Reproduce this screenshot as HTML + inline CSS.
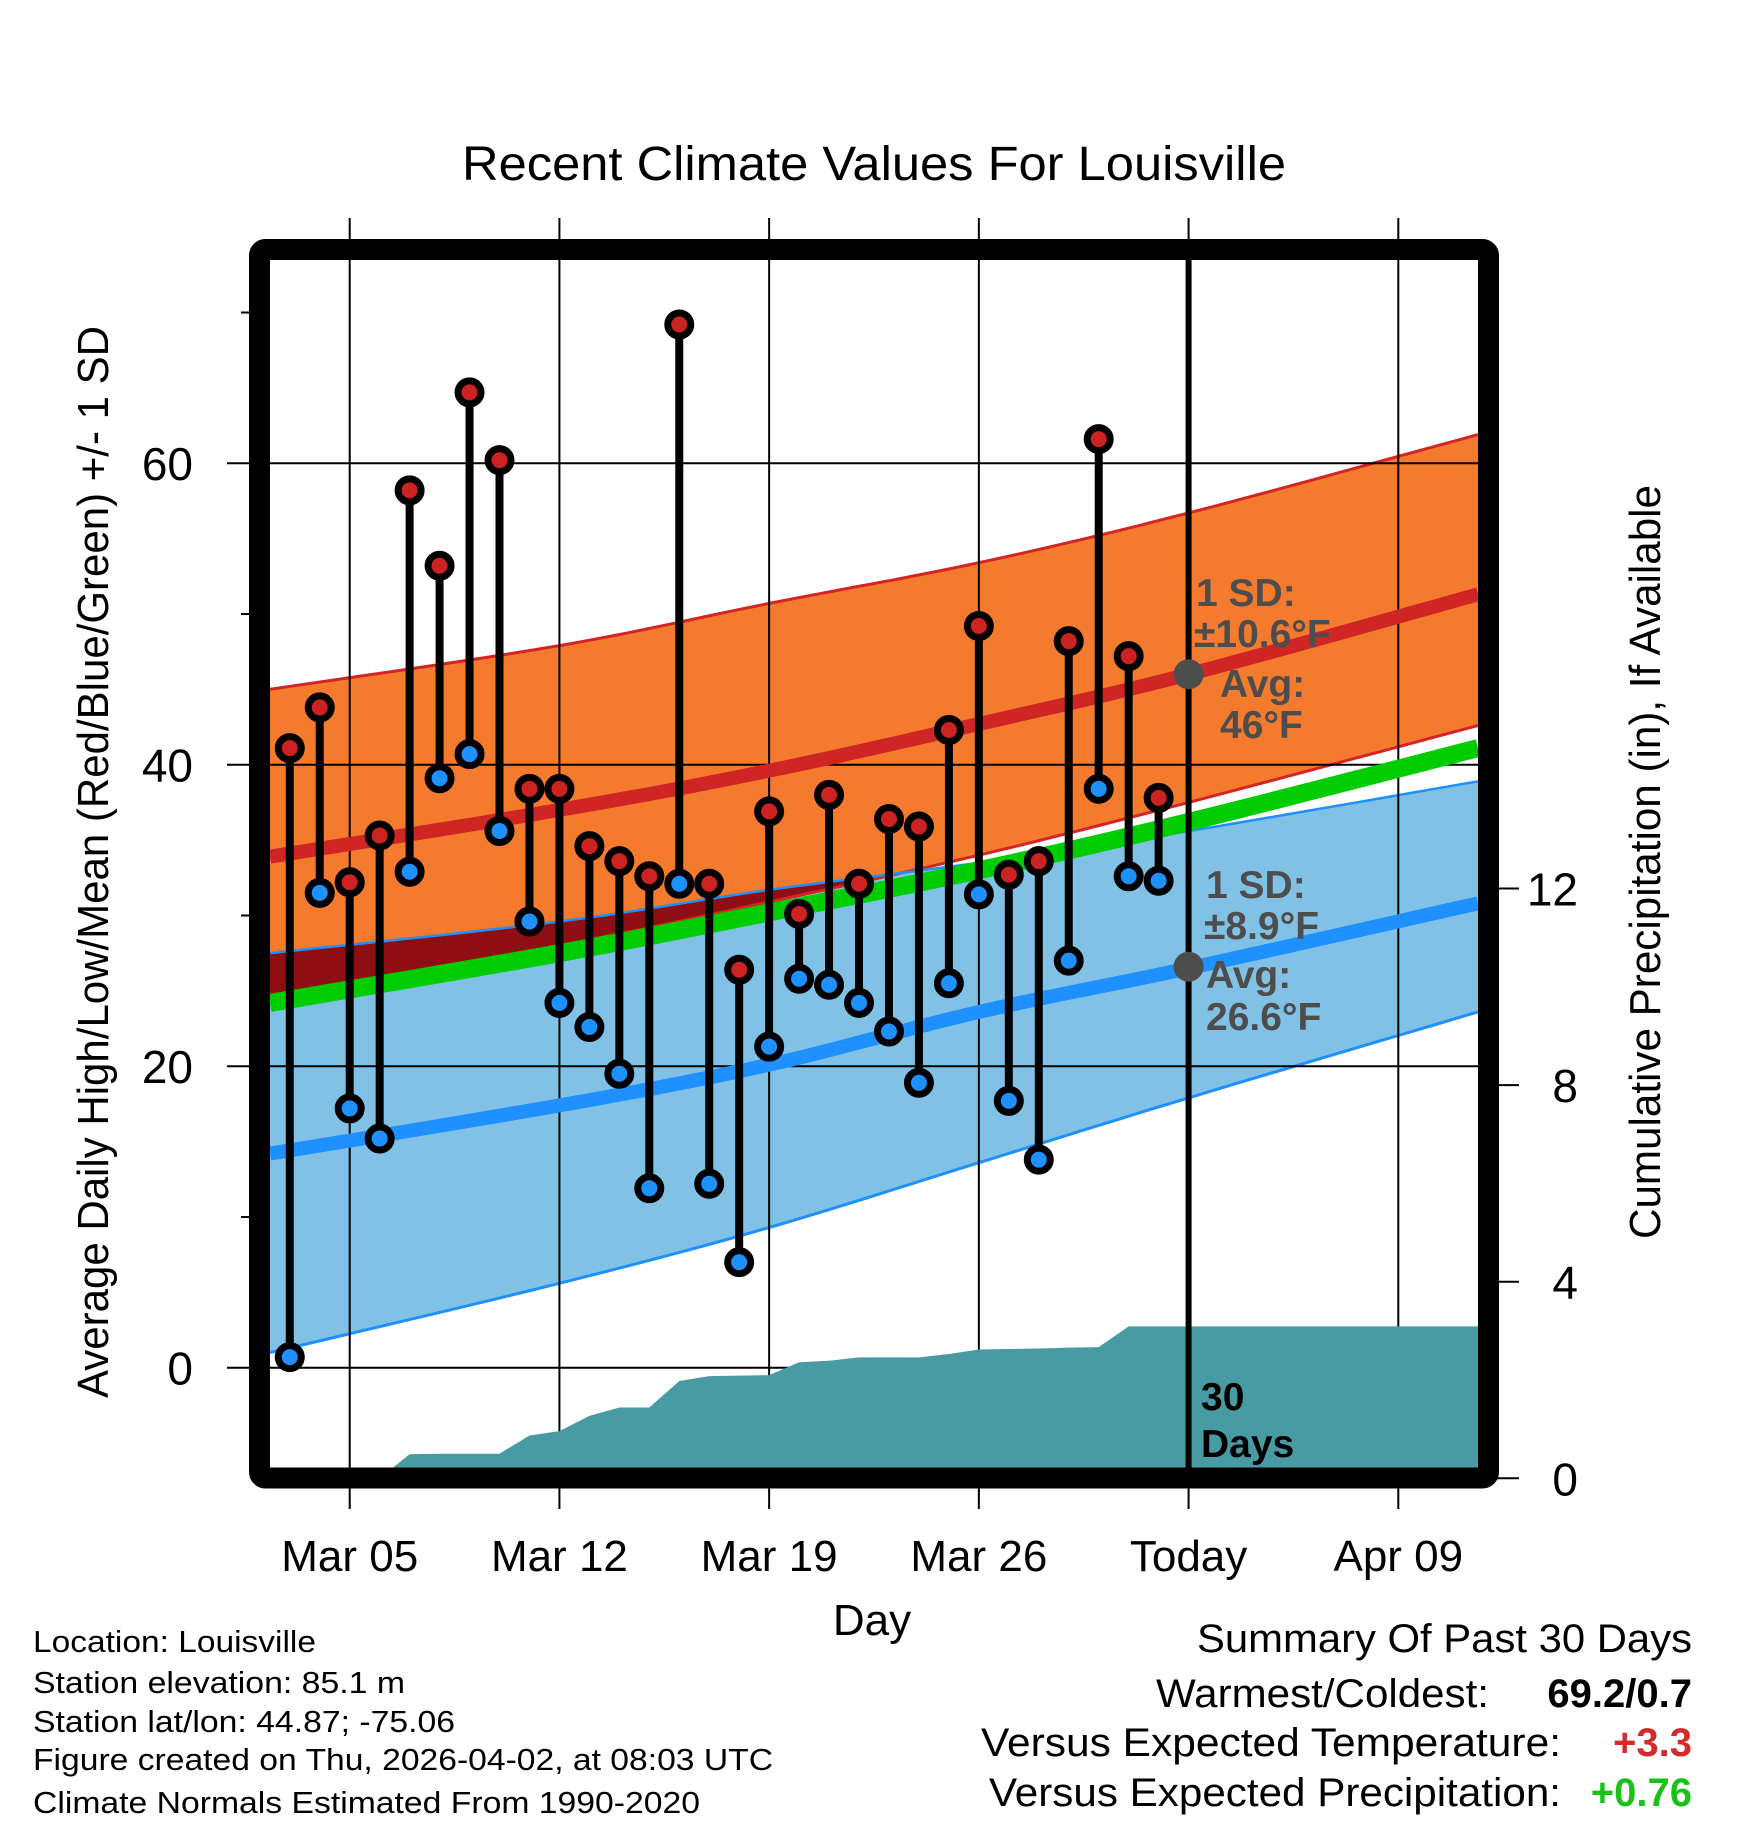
<!DOCTYPE html>
<html><head><meta charset="utf-8"><style>
html,body{margin:0;padding:0;background:#fff}
svg{display:block;font-family:"Liberation Sans",Arial,sans-serif}
</style></head><body>
<svg id="chart" width="1748" height="1828" viewBox="0 0 1748 1828" xmlns="http://www.w3.org/2000/svg">
<defs>
<clipPath id="plotClip"><rect x="270" y="260" width="1208" height="1208"/></clipPath>
</defs>
<rect width="1748" height="1828" fill="#fff"/>
<text x="874" y="180" font-size="48" text-anchor="middle" textLength="824" lengthAdjust="spacingAndGlyphs">Recent Climate Values For Louisville</text>
<g id="plot" clip-path="url(#plotClip)"></g>
<g id="overlay"></g>
<rect x="259.5" y="249.5" width="1229" height="1228.5" rx="6" fill="none" stroke="#000" stroke-width="21"/>
<g id="axes"></g>
<text transform="translate(108,862) rotate(-90)" font-size="44" text-anchor="middle" textLength="1072" lengthAdjust="spacingAndGlyphs">Average Daily High/Low/Mean (Red/Blue/Green) +/- 1 SD</text>
<text transform="translate(1660,862) rotate(-90)" font-size="44" text-anchor="middle" textLength="754" lengthAdjust="spacingAndGlyphs">Cumulative Precipitation (in), If Available</text>
<text x="872" y="1635" font-size="44" text-anchor="middle">Day</text>
<g font-size="31">
<text x="33" y="1652" textLength="283" lengthAdjust="spacingAndGlyphs">Location: Louisville</text>
<text x="33" y="1693" textLength="372" lengthAdjust="spacingAndGlyphs">Station elevation: 85.1 m</text>
<text x="33" y="1732" textLength="422" lengthAdjust="spacingAndGlyphs">Station lat/lon: 44.87; -75.06</text>
<text x="33" y="1770" textLength="740" lengthAdjust="spacingAndGlyphs">Figure created on Thu, 2026-04-02, at 08:03 UTC</text>
<text x="33" y="1813" textLength="667" lengthAdjust="spacingAndGlyphs">Climate Normals Estimated From 1990-2020</text>
</g>
<g font-size="40" text-anchor="end">
<text x="1692" y="1652" textLength="495" lengthAdjust="spacingAndGlyphs">Summary Of Past 30 Days</text>
<text x="1489" y="1707" textLength="333" lengthAdjust="spacingAndGlyphs">Warmest/Coldest:</text>
<text x="1692" y="1707" font-weight="bold">69.2/0.7</text>
<text x="1561" y="1756" textLength="580" lengthAdjust="spacingAndGlyphs">Versus Expected Temperature:</text>
<text x="1692" y="1756" font-weight="bold" fill="#d42a2a">+3.3</text>
<text x="1561" y="1806" textLength="572" lengthAdjust="spacingAndGlyphs">Versus Expected Precipitation:</text>
<text x="1692" y="1806" font-weight="bold" fill="#19c219">+0.76</text>
</g>
</svg>
<script>
// ---- data ----
const dayNums = [3,4,5,6,7,8,9,10,11,12,13,14,15,16,17,18,19,20,21,22,23,24,25,26,27,28,29,30,31,32];
const highs = [41.1,43.8,32.2,35.3,58.2,53.2,64.7,60.2,38.4,38.4,34.6,33.6,32.6,69.2,32.1,26.4,36.9,30.1,38.0,32.1,36.4,35.9,42.3,49.2,32.7,33.6,48.2,61.6,47.2,37.8];
const lows = [0.7,31.5,17.2,15.2,32.9,39.1,40.7,35.6,29.6,24.2,22.6,19.5,11.9,32.1,12.2,7.0,21.3,25.8,25.4,24.2,22.3,18.9,25.5,31.4,17.7,13.8,27.0,38.4,32.6,32.3];
const precipCum = [0,0,0,0,0.49,0.50,0.50,0.50,0.87,0.96,1.27,1.44,1.44,1.98,2.08,2.09,2.10,2.36,2.39,2.46,2.46,2.46,2.53,2.62,2.63,2.64,2.66,2.67,3.09,3.09];
const normDays = [2.34,12,19,26,33,42.66];
const highUpper = [45.0,47.9,50.7,53.4,56.7,61.9];
const highMean = [33.9,37.0,39.6,42.7,46.0,51.3];
const highLower = [24.6,28.0,30.9,34.0,37.5,42.6];
const meanNorm = [24.2,27.5,30.2,33.0,36.2,41.1];
const lowUpper = [27.5,29.6,31.7,33.5,35.6,38.9];
const lowMean = [14.2,17.4,20.1,23.6,26.5,30.8];
const lowLower = [1.0,5.6,9.3,13.6,17.9,23.6];
const yTicks = [0,20,40,60];
const yMinor = [10,30,50,70];
const pTicks = [0,4,8,12];
const xTickDays = [5,12,19,26,33,40];
const xTickLabels = ["Mar 05","Mar 12","Mar 19","Mar 26","Today","Apr 09"];
const todayDay = 33;
const todayHighAvg = 46.0, todayLowAvg = 26.6;

// ---- axes ----
const NS = "http://www.w3.org/2000/svg";
function xOf(d){ return 349.7 + (d-5)*29.96; }
function yOf(t){ return 1367.7 - t*15.075; }
function pOf(p){ return 1478.3 - p*49.15; }
function mk(tag, attrs, parent){ const e=document.createElementNS(NS,tag); for(const k in attrs) e.setAttribute(k,attrs[k]); parent.appendChild(e); return e; }
const plot = document.getElementById('plot');
const overlay = document.getElementById('overlay');
const axes = document.getElementById('axes');
function smoothPts(arr){
  const P = normDays.map((d,i)=>[xOf(d),yOf(arr[i])]);
  const out=[];
  for(let i=0;i<P.length-1;i++){
    const p0=P[Math.max(0,i-1)],p1=P[i],p2=P[i+1],p3=P[Math.min(P.length-1,i+2)];
    for(let k=0;k<10;k++){
      const t=k/10,t2=t*t,t3=t2*t;
      const f=(a,b,c,d)=>0.5*((2*b)+(-a+c)*t+(2*a-5*b+4*c-d)*t2+(-a+3*b-3*c+d)*t3);
      out.push([f(p0[0],p1[0],p2[0],p3[0]),f(p0[1],p1[1],p2[1],p3[1])]);
    }
  }
  out.push(P[P.length-1]);
  return out.map(p=>p[0].toFixed(1)+','+p[1].toFixed(1));
}
function band(up, lo){ return smoothPts(up).concat(smoothPts(lo).reverse()).join(' '); }

let e = mk('polygon',{points:band(lowUpper,lowLower),fill:'#82c1e6'},plot);
 
e = mk('polygon',{points:band(highUpper,highLower),fill:'#f47a2e'},plot);
 
const cp = mk('clipPath',{id:'lowClip'},document.querySelector('defs'));
mk('polygon',{points:band(lowUpper,lowLower)},cp);
e = mk('polygon',{points:band(highUpper,highLower),fill:'#8f0e14','clip-path':'url(#lowClip)'},plot);
 
[[highUpper,'#d42424',3,'high-upper-line'],[highLower,'#d42424',3,'high-lower-line'],[lowUpper,'#1e90ff',2.5,'low-upper-line'],[lowLower,'#1e90ff',3,'low-lower-line']].forEach(s=>{
  const l = mk('polyline',{points:smoothPts(s[0]).join(' '),fill:'none',stroke:s[1],'stroke-width':s[2]},plot);
   
});
yTicks.forEach(t=>{
  const g = mk('line',{x1:270,x2:1478,y1:yOf(t),y2:yOf(t),stroke:'#000','stroke-width':2},plot);
   
});
xTickDays.forEach(d=>{
  const g = mk('line',{x1:xOf(d),x2:xOf(d),y1:260,y2:1468,stroke:'#000','stroke-width':2},plot);
   
});
e = mk('polyline',{points:smoothPts(meanNorm).join(' '),fill:'none',stroke:'#00cc00','stroke-width':18},plot);
 
e = mk('polyline',{points:smoothPts(lowMean).join(' '),fill:'none',stroke:'#1e90ff','stroke-width':14},plot);
 
e = mk('polyline',{points:smoothPts(highMean).join(' '),fill:'none',stroke:'#d02525','stroke-width':14},plot);
 
let pp = [xOf(dayNums[0])+','+pOf(0)];
dayNums.forEach((d,i)=>pp.push(xOf(d).toFixed(1)+','+pOf(precipCum[i]).toFixed(1)));
pp.push('1480,'+pOf(precipCum[precipCum.length-1]).toFixed(1));
pp.push('1480,1480');
pp.push(xOf(dayNums[0])+',1480');
e = mk('polygon',{points:pp.join(' '),fill:'#489ba3'},plot);
 
e = mk('line',{x1:xOf(todayDay),x2:xOf(todayDay),y1:255,y2:1475,stroke:'#000','stroke-width':6},overlay);
 
dayNums.forEach((d,i)=>{
  const s = mk('line',{x1:xOf(d),x2:xOf(d),y1:yOf(highs[i]),y2:yOf(lows[i]),stroke:'#000','stroke-width':8},overlay);
   
});
dayNums.forEach((d,i)=>{
  const h = mk('circle',{cx:xOf(d),cy:yOf(highs[i]),r:11.5,fill:'#cc2222',stroke:'#000','stroke-width':7},overlay);
   
  const l = mk('circle',{cx:xOf(d),cy:yOf(lows[i]),r:11.5,fill:'#1e90ff',stroke:'#000','stroke-width':7},overlay);
   
});
e = mk('circle',{cx:xOf(todayDay),cy:yOf(todayHighAvg),r:15,fill:'#4d4d4d'},overlay);
 
e = mk('circle',{cx:xOf(todayDay),cy:yOf(todayLowAvg),r:15,fill:'#4d4d4d'},overlay);
 
function txt(x,y,s,attrs,name,parent){ const t=mk('text',Object.assign({x:x,y:y},attrs),parent||overlay); t.textContent=s;   return t; }
const ann = {'font-size':39,'font-weight':'bold',fill:'#4d4d4d'};
txt(1196,606,'1 SD:',ann,'high-sd-label');
txt(1194,647,'±10.6°F',ann,'high-sd-value');
txt(1220,697,'Avg:',ann,'high-avg-label');
txt(1220,738,'46°F',ann,'high-avg-value');
txt(1206,898,'1 SD:',ann,'low-sd-label');
txt(1204,939,'±8.9°F',ann,'low-sd-value');
txt(1206,988,'Avg:',ann,'low-avg-label');
txt(1206,1030,'26.6°F',ann,'low-avg-value');
txt(1201,1410,'30',{'font-size':39,'font-weight':'bold',fill:'#000'},'days-count-label');
txt(1201,1457,'Days',{'font-size':39,'font-weight':'bold',fill:'#000'},'days-count-unit');
yTicks.forEach(t=>{
  const l = mk('line',{x1:227,x2:262,y1:yOf(t),y2:yOf(t),stroke:'#000','stroke-width':2},axes);
   
  txt(193,yOf(t)+17,String(t),{'font-size':46,'text-anchor':'end'},'y-tick-label',axes);
});
yMinor.forEach(t=>{
  const l = mk('line',{x1:241,x2:262,y1:yOf(t),y2:yOf(t),stroke:'#000','stroke-width':2},axes);
   
});
pTicks.forEach(p=>{
  const l = mk('line',{x1:1488,x2:1519,y1:pOf(p),y2:pOf(p),stroke:'#000','stroke-width':2},axes);
   
  txt(1578,pOf(p)+17,String(p),{'font-size':46,'text-anchor':'end'},'y2-tick-label',axes);
});
xTickDays.forEach((d,i)=>{
  const a = mk('line',{x1:xOf(d),x2:xOf(d),y1:218,y2:250,stroke:'#000','stroke-width':2},axes);
   
  const b = mk('line',{x1:xOf(d),x2:xOf(d),y1:1478,y2:1509,stroke:'#000','stroke-width':2},axes);
   
  txt(xOf(d),1571,xTickLabels[i],{'font-size':44,'text-anchor':'middle'},'x-tick-label',axes);
});
</script>
</body></html>
